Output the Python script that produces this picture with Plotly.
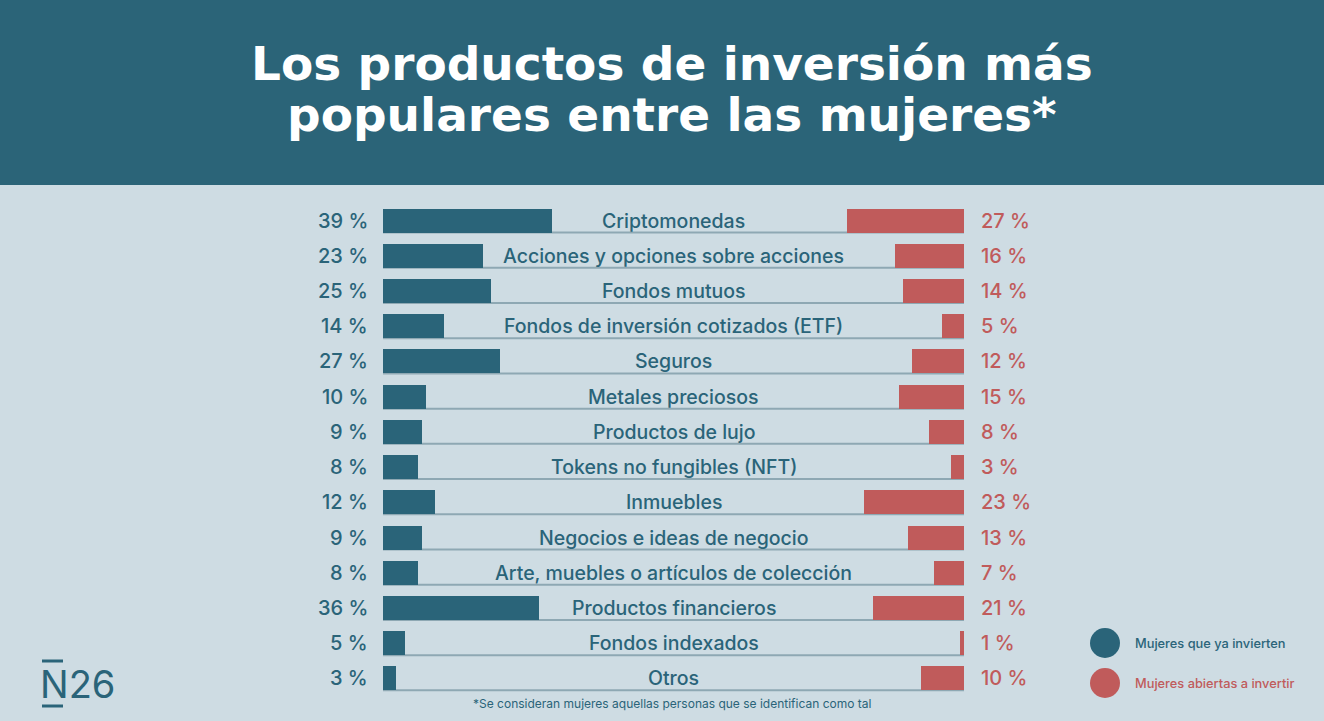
import plotly.graph_objects as go

# --- Datos ---
productos = [
    "Criptomonedas",
    "Acciones y opciones sobre acciones",
    "Fondos mutuos",
    "Fondos de inversión cotizados (ETF)",
    "Seguros",
    "Metales preciosos",
    "Productos de lujo",
    "Tokens no fungibles (NFT)",
    "Inmuebles",
    "Negocios e ideas de negocio",
    "Arte, muebles o artículos de colección",
    "Productos financieros",
    "Fondos indexados",
    "Otros",
]
ya_invierten = [39, 23, 25, 14, 27, 10, 9, 8, 12, 9, 8, 36, 5, 3]
abiertas = [27, 16, 14, 5, 12, 15, 8, 3, 23, 13, 7, 21, 1, 10]

TOTAL = 134  # ancho de la caja en %

# --- Colores ---
TEAL = "#2a6479"
RED = "#c05b5b"
BG = "#cedce3"
LINE = "#8ea8b3"

W, H = 1324, 721
L, R, T, B = 383, 360, 203, 25
PW, PH = W - L - R, H - T - B


def px(x):
    return (x - L) / PW


def py(y):
    return (H - B - y) / PH


fig = go.Figure()

fig.add_trace(go.Bar(
    y=productos, x=ya_invierten, base=0, orientation="h",
    marker=dict(color=TEAL, line=dict(width=0)), width=0.68,
    name="Mujeres que ya invierten", hoverinfo="x+y",
))
fig.add_trace(go.Bar(
    y=productos, x=abiertas, base=[TOTAL - v for v in abiertas], orientation="h",
    marker=dict(color=RED, line=dict(width=0)), width=0.68,
    name="Mujeres abiertas a invertir", hoverinfo="x+y",
))

shapes = []
annotations = []

# Banda del encabezado
shapes.append(dict(type="rect", xref="paper", yref="paper",
                   x0=px(0), x1=px(W), y0=py(0), y1=py(185),
                   fillcolor="#2b6478", line=dict(width=0), layer="below"))

# Línea base de cada fila + textos
for i, (p, a, o) in enumerate(zip(productos, ya_invierten, abiertas)):
    shapes.append(dict(type="line", xref="x", yref="y",
                       x0=0, x1=TOTAL, y0=i + 0.34, y1=i + 0.34,
                       line=dict(color=LINE, width=2), layer="below"))
    annotations.append(dict(x=TOTAL / 2, y=p, xref="x", yref="y", text=p,
                            showarrow=False, xanchor="center", yanchor="middle",
                            font=dict(size=19.5, color=TEAL, weight=500)))
    annotations.append(dict(x=px(370), y=p, xref="paper", yref="y", text=f"{a} %",
                            xanchor="right", yanchor="middle", showarrow=False,
                            font=dict(size=20, color=TEAL, weight=500)))
    annotations.append(dict(x=px(979), y=p, xref="paper", yref="y", text=f"{o} %",
                            xanchor="left", yanchor="middle", showarrow=False,
                            font=dict(size=20, color=RED, weight=500)))

# Título (dos líneas separadas para controlar el interlineado)
for yy, txt in [(64, "Los productos de inversión más"),
                (114, "populares entre las mujeres*")]:
    annotations.append(dict(x=px(672), y=py(yy), xref="paper", yref="paper",
                            text=txt, showarrow=False, xanchor="center", yanchor="middle",
                            font=dict(size=47, color="white", family="DejaVu Sans",
                                      weight="bold")))

# Nota
annotations.append(dict(x=px(672), y=py(703), xref="paper", yref="paper",
                        text="*Se consideran mujeres aquellas personas que se identifican como tal",
                        showarrow=False, xanchor="center", yanchor="middle",
                        font=dict(size=12, color=TEAL)))

# Leyenda
for yy, txt, col in [(643, "Mujeres que ya invierten", TEAL),
                     (683, "Mujeres abiertas a invertir", RED)]:
    shapes.append(dict(type="circle", xref="paper", yref="paper",
                       x0=px(1090), x1=px(1120), y0=py(yy - 15), y1=py(yy + 15),
                       fillcolor=col, line=dict(width=0)))
    annotations.append(dict(x=px(1133), y=py(yy), xref="paper", yref="paper",
                            text=txt, xanchor="left", yanchor="middle", showarrow=False,
                            font=dict(size=12.8, color=col, weight=500)))

# Logo N26
annotations.append(dict(x=px(38), y=py(684), xref="paper", yref="paper",
                        text="N26", xanchor="left", yanchor="middle", showarrow=False,
                        font=dict(size=38, color=TEAL, family="Inter")))
for yy in (661, 706):
    shapes.append(dict(type="rect", xref="paper", yref="paper",
                       x0=px(42), x1=px(63), y0=py(yy - 1.5), y1=py(yy + 1.5),
                       fillcolor=TEAL, line=dict(width=0)))

fig.update_layout(
    width=W, height=H,
    margin=dict(l=L, r=R, t=T, b=B),
    paper_bgcolor=BG, plot_bgcolor=BG,
    barmode="overlay", bargap=0,
    showlegend=False,
    font=dict(family="Inter, Roboto, sans-serif"),
    xaxis=dict(range=[0, TOTAL], visible=False, fixedrange=True),
    yaxis=dict(range=[len(productos) - 0.5, -0.5], visible=False, fixedrange=True),
    shapes=shapes,
    annotations=annotations,
)

fig.write_html("out.html", config={"displayModeBar": False},
               post_script="document.body.style.margin='0';")
